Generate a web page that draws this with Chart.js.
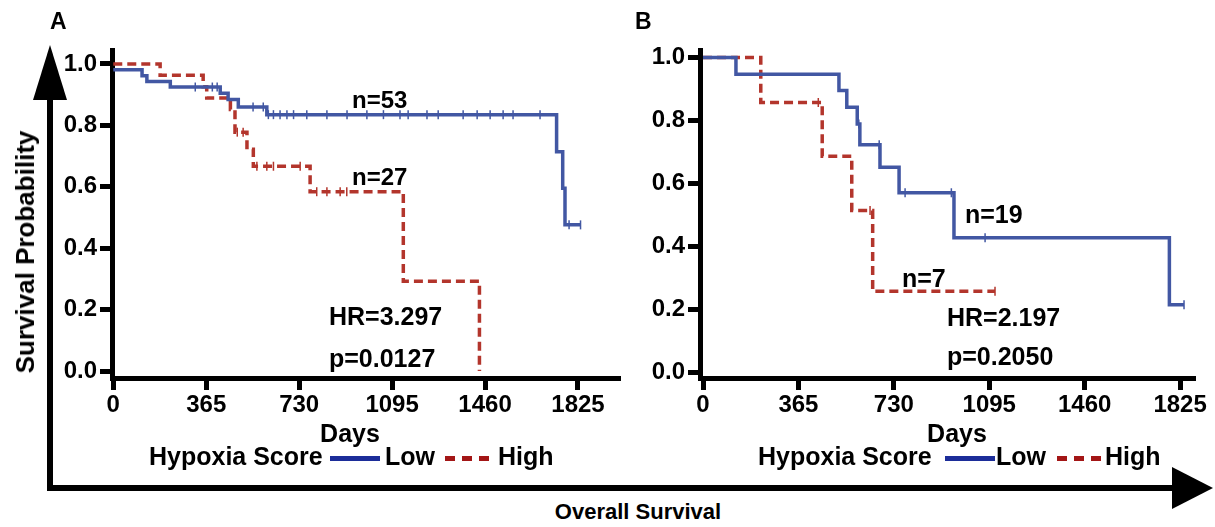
<!DOCTYPE html>
<html><head><meta charset="utf-8">
<script src="https://cdn.jsdelivr.net/npm/chart.js@4.4.1/dist/chart.umd.min.js"></script>
<style>
html,body{margin:0;padding:0;width:1215px;height:527px;overflow:hidden;background:#fff;}
.t{position:absolute;font-family:"Liberation Sans",Arial,sans-serif;font-weight:bold;color:#000;line-height:1;white-space:nowrap;}
canvas{position:absolute;top:0;}
.lg{position:absolute;height:5px;}
</style></head><body>
<svg width="1215" height="527" style="position:absolute;left:0;top:0">
  <line x1="50" y1="95" x2="50" y2="491" stroke="#000" stroke-width="6"/>
  <polygon points="50,45 33,100 67,100" fill="#000"/>
  <line x1="47" y1="488" x2="1180" y2="488" stroke="#000" stroke-width="6"/>
  <polygon points="1213,488 1172,467 1172,509" fill="#000"/>
</svg>
<canvas id="cA" width="650" height="420" style="left:0"></canvas>
<canvas id="cB" width="615" height="420" style="left:600px"></canvas>
<script>
// ---- data ----
const xTickDays = [0, 365, 730, 1095, 1460, 1825];
const yTickVals = [0, 0.2, 0.4, 0.6, 0.8, 1.0];

// Panel A, Low hypoxia score (n=53)
const lowA_days = [0,113,132,224,322,389,408,420,451,491,549,589,603,609,629,655,682,708,760,839,918,996,1061,1126,1158,1232,1276,1374,1429,1480,1531,1570,1676,1741,1765,1774,1790,1835];
const lowA_surv = [0.981,0.962,0.943,0.925,0.925,0.925,0.925,0.905,0.884,0.860,0.860,0.860,0.835,0.835,0.835,0.835,0.835,0.835,0.835,0.835,0.835,0.835,0.835,0.835,0.835,0.835,0.835,0.835,0.835,0.835,0.835,0.835,0.835,0.714,0.595,0.476,0.476,0.476];
const lowA_cens = [0,0,0,0,1,1,1,0,0,0,1,1,0,1,1,1,1,1,1,1,1,1,1,1,1,1,1,1,1,1,1,1,1,0,0,0,1,1];
// Panel A, High hypoxia score (n=27)
const highA_days = [0,184,353,367,460,478,487,510,525,550,564,603,629,734,773,799,839,891,917,1139,1438];
const highA_surv = [1.0,0.963,0.926,0.889,0.852,0.778,0.778,0.778,0.722,0.667,0.667,0.667,0.667,0.667,0.584,0.584,0.584,0.584,0.584,0.292,0.0];
const highA_cens = [0,0,0,0,0,0,1,1,0,0,1,1,1,1,0,1,1,1,1,0,0];
// Panel B, Low hypoxia score (n=19)
const lowB_days = [0,126,520,550,590,596,600,674,677,750,773,950,960,1079,1784,1840];
const lowB_surv = [1.0,0.947,0.895,0.842,0.789,0.789,0.723,0.723,0.651,0.570,0.570,0.570,0.427,0.427,0.214,0.214];
const lowB_cens = [0,0,0,0,0,1,0,1,0,0,1,1,0,1,0,1];
// Panel B, High hypoxia score (n=7)
const highB_days = [0,221,441,456,569,639,649,1117];
const highB_surv = [1.0,0.857,0.857,0.686,0.514,0.514,0.257,0.257];
const highB_cens = [0,0,1,0,0,1,0,1];

// ---- styling ----
const FONT = '"Liberation Sans", Arial, sans-serif';
const BLUE = '#4257a3', RED = '#b3352c';

function ds(days, surv, cens, color, dashed){
  return {
    data: days.map((d,i)=>({x:d, y:surv[i]})),
    showLine: true, stepped: 'before',
    borderColor: color, borderWidth: 3.5, borderDash: dashed ? [9,5] : [],
    pointStyle: 'line', rotation: 90,
    pointRadius: c => cens[c.dataIndex] ? 4.5 : 0,
    pointHoverRadius: c => cens[c.dataIndex] ? 4.5 : 0,
    pointBorderColor: color, pointBackgroundColor: color, pointBorderWidth: 1.5,
    fill: false
  };
}
function makeChart(id, sets, xr, yr, pad){
  new Chart(document.getElementById(id), {
    type: 'scatter',
    data: { datasets: sets },
    options: {
      responsive: false, animation: false, devicePixelRatio: 1,
      layout: { padding: pad },
      plugins: { legend: {display:false}, tooltip: {enabled:false} },
      events: [],
      scales: {
        x: {
          type: 'linear', min: xr[0], max: xr[1],
          afterBuildTicks: s => { s.ticks = xTickDays.map(v=>({value:v})); },
          afterFit: s => { s.height = 42; s.paddingLeft = 0; s.paddingRight = 0; },
          ticks: { color:'#000', font:{family:FONT, size:24, weight:'bold'}, padding:1, maxRotation:0, autoSkip:false, callback: v => String(v) },
          grid: { drawOnChartArea:false, drawTicks:true, tickLength:12, tickWidth:5, tickColor:'#000' },
          border: { display:true, width:5, color:'#000' }
        },
        y: {
          type: 'linear', min: yr[0], max: yr[1],
          afterBuildTicks: s => { s.ticks = yTickVals.map(v=>({value:v})); },
          afterFit: s => { s.width = 60; s.paddingTop = 0; s.paddingBottom = 0; },
          ticks: { color:'#000', font:{family:FONT, size:24, weight:'bold'}, padding:3, callback: v => Number(v).toFixed(1) },
          grid: { drawOnChartArea:false, drawTicks:true, tickLength:12, tickWidth:5, tickColor:'#000' },
          border: { display:true, width:5, color:'#000' }
        }
      }
    }
  });
}
makeChart('cA', [ds(lowA_days, lowA_surv, lowA_cens, BLUE, false), ds(highA_days, highA_surv, highA_cens, RED, true)],
  [-5, 1990], [-0.0228, 1.0456], {left:52, right:30, top:50, bottom:0});
makeChart('cB', [ds(lowB_days, lowB_surv, lowB_cens, BLUE, false), ds(highB_days, highB_surv, highB_cens, RED, true)],
  [-11.5, 1882], [-0.019, 1.024], {left:40, right:20, top:50, bottom:0});

// ---- text ----
function txt(s, x, base, size, center){
  const d = document.createElement('div'); d.className = 't'; d.textContent = s;
  d.style.fontSize = size + 'px'; d.style.top = (base - 0.8465*size) + 'px'; d.style.left = x + 'px';
  if (center) d.style.transform = 'translateX(-50%)';
  document.body.appendChild(d);
}
function bar(x, y, w, color){
  const d = document.createElement('div'); d.className = 'lg';
  d.style.left = x+'px'; d.style.top = y+'px'; d.style.width = w+'px'; d.style.background = color;
  document.body.appendChild(d);
}
txt('A', 50, 29, 23); txt('B', 635, 29, 23);
txt('n=53', 352, 108, 24); txt('n=27', 352, 185, 24);
txt('HR=3.297', 329, 325, 25); txt('p=0.0127', 329, 367, 25);
txt('n=19', 965, 223, 25); txt('n=7', 902, 287, 25);
txt('HR=2.197', 947, 326, 25); txt('p=0.2050', 947, 365, 25);
txt('Days', 350, 442, 25, true); txt('Days', 957, 442, 25, true);
// legends
txt('Hypoxia Score', 149, 465, 25); bar(330, 456, 50, '#1c2d99'); txt('Low', 385, 465, 25);
bar(445, 456, 10, '#a31616'); bar(462, 456, 10, '#a31616'); bar(479, 456, 10, '#a31616'); txt('High', 498, 465, 25);
txt('Hypoxia Score', 758, 465, 25); bar(945, 456, 50, '#1c2d99'); txt('Low', 996, 465, 25);
bar(1057, 456, 10, '#a31616'); bar(1074, 456, 10, '#a31616'); bar(1091, 456, 10, '#a31616'); txt('High', 1105, 465, 25);
txt('Overall Survival', 638, 520, 22, true);
const sp = document.createElement('div'); sp.className = 't'; sp.textContent = 'Survival Probability';
sp.style.fontSize = '26px'; sp.style.left = '25px'; sp.style.top = '252px';
sp.style.transform = 'translate(-50%,-50%) rotate(-90deg)';
document.body.appendChild(sp);
</script>
</body></html>
